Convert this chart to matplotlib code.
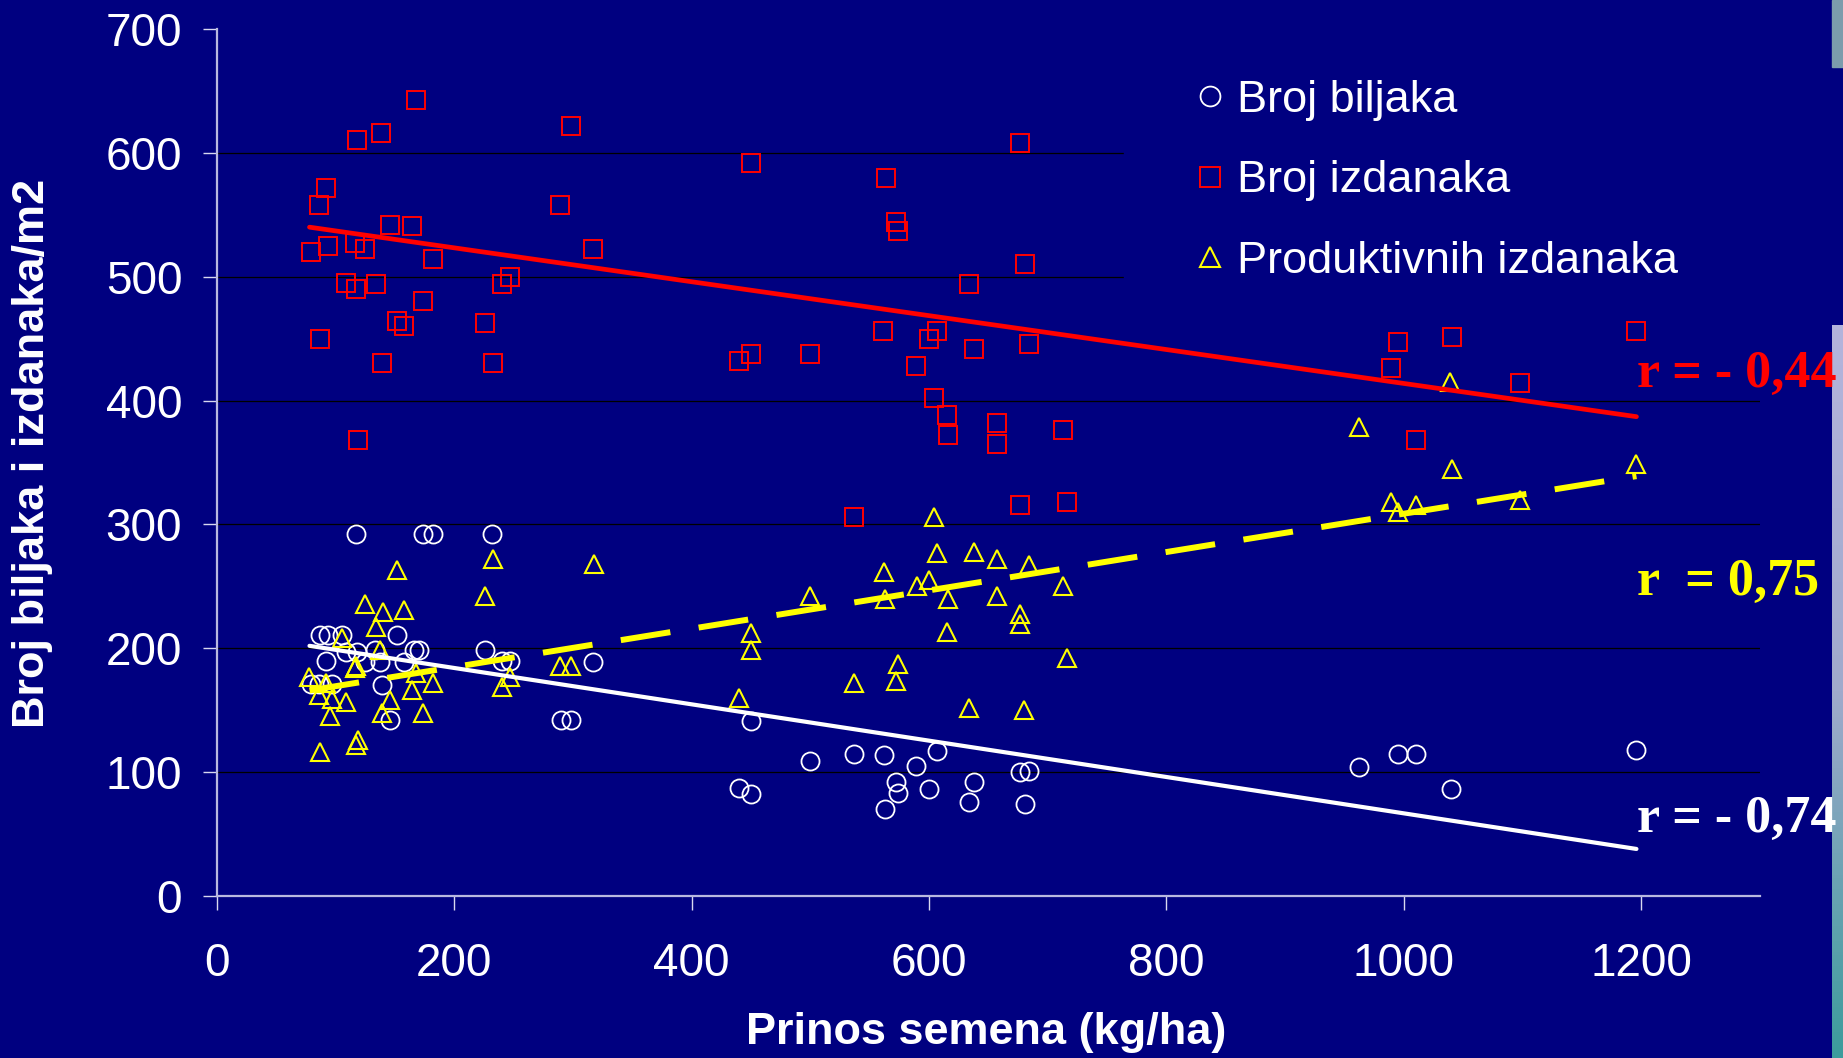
import matplotlib.pyplot as plt
import numpy as np
from matplotlib.colors import LinearSegmentedColormap
from matplotlib.patches import Rectangle

plt.rcParams['font.family'] = ['Liberation Sans', 'DejaVu Sans']

# Prinos semena (kg/ha) -> broj biljaka / izdanaka po m2
biljke_x = [117, 174, 182, 232, 87, 94, 105, 152, 92, 109, 118, 125, 133, 137, 158, 166, 170,
            226, 240, 247, 317, 79, 86, 97, 139, 146, 290, 298, 450, 440, 450, 500, 537, 562,
            607, 589, 572, 574, 600, 563, 638, 634, 677, 684, 681, 962, 995, 1010, 1040, 1196]
biljke_y = [292, 292, 292, 292, 211, 211, 211, 211, 190, 197, 197, 189, 199, 189, 189, 199, 199,
            199, 190, 190, 189, 171, 171, 171, 170, 142, 142, 142, 141, 87, 82, 109, 115, 114,
            117, 105, 92, 83, 86, 70, 92, 76, 100, 101, 74, 104, 115, 115, 86, 118]

izdanci_x = [168, 138, 118, 298, 92, 86, 289, 146, 164, 94, 79, 116, 125, 317, 182, 247, 240,
             109, 117, 134, 174, 152, 158, 226, 87, 139, 233, 119, 450, 564, 572, 574, 677, 681,
             634, 561, 607, 600, 638, 684, 589, 450, 440, 500, 604, 615, 616, 657, 657, 713, 537,
             677, 716, 995, 989, 1041, 1098, 1010, 1196]
izdanci_y = [643, 616, 610, 622, 572, 558, 558, 542, 541, 525, 520, 527, 522, 522, 514, 500, 494,
             495, 490, 494, 480, 464, 460, 463, 450, 430, 430, 368, 592, 580, 544, 537, 608, 510,
             494, 456, 456, 450, 442, 446, 428, 438, 432, 438, 402, 388, 372, 382, 365, 376, 306,
             316, 318, 447, 426, 451, 414, 368, 456]

produktivni_x = [152, 233, 318, 226, 125, 140, 158, 134, 105, 137, 117, 116, 168, 182, 164, 78, 92,
                 86, 97, 109, 146, 139, 174, 95, 240, 247, 289, 298, 119, 117, 87, 440, 450, 450,
                 500, 537, 562, 563, 604, 607, 590, 600, 615, 616, 574, 572, 638, 657, 657, 634,
                 684, 677, 677, 680, 713, 716, 962, 1039, 1041, 1196, 989, 1010, 995, 1098]
produktivni_y = [263, 272, 268, 242, 236, 229, 231, 217, 208, 199, 186, 184, 180, 172, 166, 177, 172,
                 162, 159, 157, 158, 148, 148, 145, 169, 177, 186, 186, 126, 122, 116, 160, 212, 199,
                 242, 172, 262, 240, 306, 277, 250, 255, 213, 240, 187, 174, 278, 272, 242, 152,
                 267, 228, 220, 150, 250, 192, 379, 415, 345, 349, 318, 316, 310, 320]

# linearni trend (krajnje tacke ocitane sa slike)
trend_x = [78, 1196]
trend_biljke = [202, 38]
trend_izdanci = [540, 387]
trend_produktivni = [166, 339]

x_ticks = [0, 200, 400, 600, 800, 1000, 1200]
y_ticks = [0, 100, 200, 300, 400, 500, 600, 700]

navy = '#000080'

fig = plt.figure(figsize=(18.43, 10.58), dpi=100, facecolor=navy)
ax = fig.add_axes([0.1177, 0.1531, 0.8372, 0.8195])
ax.set_facecolor(navy)
ax.set_xlim(0, 1300)
ax.set_ylim(0, 700)
ax.set_xticks(x_ticks)
ax.set_yticks(y_ticks)

ax.hlines(y_ticks[1:-1], 0, 1300, colors='black', linewidth=0.9, zorder=0.5)

for s in ['top', 'right']:
    ax.spines[s].set_visible(False)
for s in ['left', 'bottom']:
    ax.spines[s].set_color('#b8b8e0')
    ax.spines[s].set_linewidth(1.6)

ax.tick_params(axis='both', colors='#d8d8f0', length=10, width=1, labelcolor='white', labelsize=33)
ax.tick_params(axis='x', pad=23)
ax.tick_params(axis='y', pad=15)

ax.plot(biljke_x, biljke_y, 'o', ms=13, mfc='none', mec='white', mew=1.3,
        label='Broj biljaka', zorder=3)
ax.plot(izdanci_x, izdanci_y, 's', ms=13, mfc='none', mec='red', mew=1.4,
        label='Broj izdanaka', zorder=3)
ax.plot(produktivni_x, produktivni_y, '^', ms=13, mfc='none', mec='yellow', mew=1.5,
        label='Produktivnih izdanaka', zorder=3)

ax.plot(trend_x, trend_izdanci, color='red', lw=3.4, solid_capstyle='round', zorder=4)
ax.plot(trend_x, trend_biljke, color='white', lw=3.0, solid_capstyle='round', zorder=4)
ax.plot(trend_x, trend_produktivni, color='yellow', lw=4.3, dashes=(8.4, 4.8),
        dash_capstyle='butt', zorder=4)

leg = ax.legend(loc='upper left', bbox_to_anchor=(0.588, 1.0138, 0.412, 0), mode='expand',
                borderaxespad=0, frameon=True, facecolor=navy, edgecolor=navy, framealpha=1,
                fancybox=False, fontsize=32.5, labelcolor='white', handlelength=1.02,
                handletextpad=0.07, borderpad=1.4, labelspacing=0.87, numpoints=1,
                markerscale=1.1)
leg.set_zorder(2)

ax.set_xlabel('Prinos semena (kg/ha)', fontsize=32.5, fontweight='bold', color='white')
ax.set_ylabel('Broj biljaka i izdanaka/m2', fontsize=32.5, fontweight='bold', color='white')
ax.xaxis.set_label_coords(0.4985, -0.134)
ax.yaxis.set_label_coords(-0.1063, 0.511)

rfont = dict(family=['Liberation Serif', 'DejaVu Serif'], fontweight='bold', fontsize=37.5)
fig.text(1637 / 1843, 1 - 387 / 1058, 'r = - 0,44', color='red', va='baseline', **rfont)
fig.text(1637 / 1843, 1 - 595 / 1058, 'r  = 0,75', color='yellow', va='baseline', **rfont)
fig.text(1637 / 1843, 1 - 832 / 1058, 'r = - 0,74', color='white', va='baseline', **rfont)

# svetla traka na desnoj ivici slajda
fig.add_artist(Rectangle((1832 / 1843, 1 - 67 / 1058), 11 / 1843, 67 / 1058,
                         transform=fig.transFigure, color='#7c9cac', zorder=10))
strip = fig.add_axes([1832 / 1843, 0, 11 / 1843, (1058 - 325) / 1058])
strip.imshow(np.linspace(0, 1, 200).reshape(-1, 1), aspect='auto',
             cmap=LinearSegmentedColormap.from_list('strip', ['#b4b4dc', '#a0aacc', '#3c9c9c']))
strip.axis('off')

fig.savefig('out.png', dpi=100, facecolor=navy)
